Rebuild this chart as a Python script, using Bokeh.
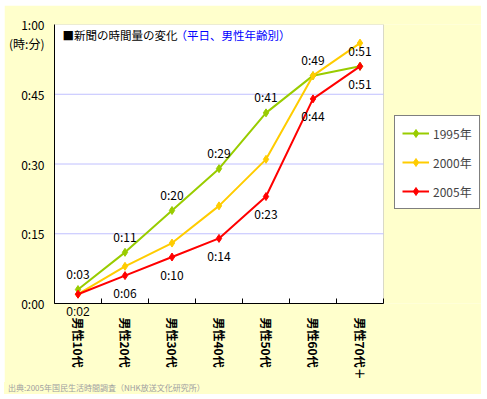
from bokeh.plotting import figure
from bokeh.models import (FixedTicker, Legend, LegendItem, Label, Range1d, LinearAxis, Div,
                          BoxAnnotation)
from bokeh.layouts import column
from bokeh.embed import file_html
from bokeh.resources import INLINE

categories = ["男性10代", "男性20代", "男性30代", "男性40代", "男性50代", "男性60代", "男性70代＋"]
series_names = ["1995年", "2000年", "2005年"]
v1995 = [3, 11, 20, 29, 41, 49, 51]
v2000 = [2, 8, 13, 21, 31, 49, 56]
v2005 = [2, 6, 10, 14, 23, 44, 51]
colors = ["#99CC00", "#FFCC00", "#FF0000"]
y_ticks = [0, 15, 30, 45, 60]
y_tick_labels = ["0:00", "0:15", "0:30", "0:45", "1:00"]
grid_ticks = [15, 30, 45]
unit_label = "(時:分)"
unit_pos = 56
title_main = "■新聞の時間量の変化"
title_sub = "（平日、男性年齢別）"
source_note = "出典:2005年国民生活時間調査（NHK放送文化研究所）"

FONT = "Noto Sans CJK JP"
YELLOW = "#FFFFCC"

def fmt(v):
    return "%d:%02d" % (v // 60, v % 60)

n = len(categories)
W, H = 477, 377
FL, FT, FB = 50, 19, 75          # frame borders (left, top, bottom)
PLOT_W = 329                     # width of the white plot area in px
frame_w = W - FL
x_end = n * frame_w / PLOT_W

p = figure(width=W, height=H, output_backend="svg", toolbar_location=None,
           x_range=Range1d(0, x_end), y_range=Range1d(0, 60),
           x_axis_location=None,
           min_border_left=FL, min_border_right=0, min_border_top=FT, min_border_bottom=FB)
p.border_fill_color = YELLOW
p.background_fill_color = YELLOW
p.outline_line_color = None

# white plot area with grey border
p.add_layout(BoxAnnotation(left=0, right=n, bottom=0, top=60, fill_color="white", fill_alpha=1.0,
                           line_color="#808080", line_width=1, level="image"))

xs = [i + 0.5 for i in range(n)]

# axis A: axis line + boundary ticks + first 2005 data label (sits just under the axis)
axA = LinearAxis(ticker=FixedTicker(ticks=[xs[0]], minor_ticks=list(range(n + 1))), bounds=(0, n))
axA.major_label_overrides = {xs[0]: fmt(v2005[0])}
axA.major_tick_in = 0
axA.major_tick_out = 0
axA.minor_tick_in = 5
axA.minor_tick_out = 0
axA.minor_tick_line_color = "black"
axA.axis_line_color = "black"
axA.major_label_text_font = "Liberation Sans"
axA.major_label_text_font_size = "12px"
axA.major_label_text_color = "black"
axA.major_label_standoff = 1
p.add_layout(axA, "below")

# axis B: category labels
axB = LinearAxis(ticker=FixedTicker(ticks=xs, minor_ticks=[]))
axB.major_label_overrides = {x: c for x, c in zip(xs, categories)}
axB.major_label_orientation = "vertical"
axB.major_tick_in = 0
axB.major_tick_out = 0
axB.axis_line_color = None
axB.major_label_text_font = FONT
axB.major_label_text_font_size = "12px"
axB.major_label_text_font_style = "bold"
axB.major_label_text_color = "black"
axB.major_label_standoff = -4
p.add_layout(axB, "below")

p.yaxis.ticker = FixedTicker(ticks=y_ticks + [unit_pos], minor_ticks=[])
ov = {t: l for t, l in zip(y_ticks, y_tick_labels)}
ov[unit_pos] = unit_label
p.yaxis.major_label_overrides = ov
p.yaxis.major_tick_in = 0
p.yaxis.major_tick_out = 0
p.yaxis.axis_line_color = "black"
p.yaxis.major_label_text_font = FONT
p.yaxis.major_label_text_font_size = "12px"
p.yaxis.major_label_text_color = "black"
p.yaxis.major_label_standoff = 10

p.grid.visible = False
p.segment(x0=[0] * len(grid_ticks), x1=[n] * len(grid_ticks), y0=grid_ticks, y1=grid_ticks,
          line_color="#C0C0FF", line_width=1)

items = []
for name, vals, col in zip(series_names, [v1995, v2000, v2005], colors):
    r1 = p.line(xs, vals, line_color=col, line_width=2)
    r2 = p.scatter(xs, vals, marker="diamond", size=8, fill_color=col, line_color=col)
    items.append(LegendItem(label=name, renderers=[r1, r2]))

# data labels: 1995 above, 2005 below
for x, v in zip(xs, v1995):
    p.add_layout(Label(x=x, y=v, text=fmt(v), text_font=FONT, text_font_size="12px",
                       text_align="center", text_baseline="middle", y_offset=16,
                       text_color="black"))
for x, v in list(zip(xs, v2005))[1:]:
    p.add_layout(Label(x=x, y=v, text=fmt(v), text_font=FONT, text_font_size="12px",
                       text_align="center", text_baseline="middle", y_offset=-17,
                       text_color="black"))

ppx = PLOT_W / n
ppy = 283 / 60.0
p.add_layout(Label(x=(62 - 54) / ppx, y=(307 - 35) / ppy, text=title_main,
                   text_font=FONT, text_font_size="11.5px", text_align="left",
                   text_baseline="middle", text_color="black"))
p.add_layout(Label(x=(175 - 54) / ppx, y=(307 - 35) / ppy, text=title_sub,
                   text_font=FONT, text_font_size="11.5px", text_align="left",
                   text_baseline="middle", text_color="#0000FF"))

legend = Legend(items=items, location=(340, 94), margin=0, padding=7, spacing=9,
                glyph_width=27, glyph_height=20, label_height=20, label_standoff=4,
                label_text_font=FONT, label_text_font_size="12px",
                border_line_color="black", border_line_width=1,
                background_fill_color="white", background_fill_alpha=1.0)
p.add_layout(legend)

note = Div(text=source_note, width=W, height=12, margin=0,
           styles={"background-color": YELLOW, "color": "#A0A0A0", "font-size": "8px",
                   "font-family": FONT, "line-height": "12px", "white-space": "nowrap",
                   "overflow": "visible", "padding-left": "4px", "box-sizing": "border-box"})

layout = column(p, note, spacing=0, margin=(5, 6, 5, 4))

open("out.html", "w").write(file_html(layout, INLINE))
